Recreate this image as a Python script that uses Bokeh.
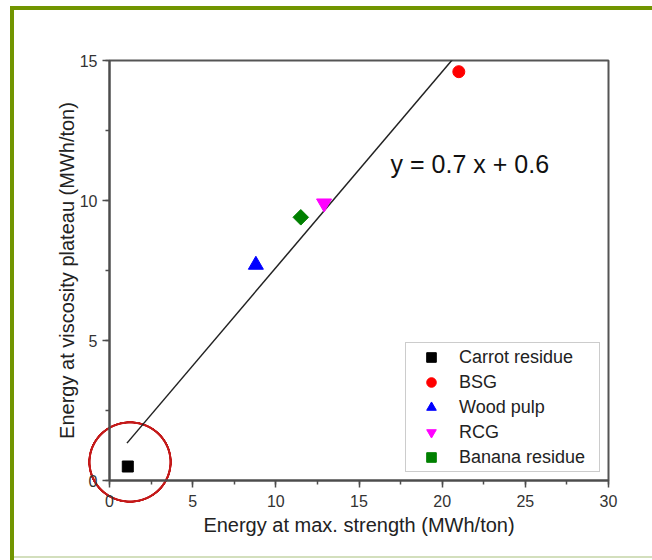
import math
from bokeh.plotting import figure
from bokeh.models import Range1d, SingleIntervalTicker, Label, Legend, LegendItem
from bokeh.embed import file_html
from bokeh.resources import INLINE

# ---- data ----
materials = ["Carrot residue", "BSG", "Wood pulp", "RCG", "Banana residue"]
energy_max_strength = [1.1, 21.0, 8.8, 12.9, 11.5]      # MWh/ton (x)
energy_visc_plateau = [0.5, 14.6, 7.7, 9.9, 9.4]        # MWh/ton (y)
marker_types = ["square", "circle", "triangle", "inverted_triangle", "square"]
marker_angles = [0, 0, 0, 0, 45]
marker_sizes = [11, 12, 15, 15, 11]
marker_colors = ["#000000", "#ff0000", "#0000ff", "#ff00ff", "#008000"]

fit_slope = 0.7
fit_intercept = 0.6
fit_x_span = [1.05, 21.0]
equation_text = "y = 0.7 x + 0.6"

x_label = "Energy at max. strength (MWh/ton)"
y_label = "Energy at viscosity plateau (MWh/ton)"

FONT = "Liberation Sans"

# slide decoration (green frame) and red highlight ring, drawn as page background
deco_css = """
:host {
  background:
    radial-gradient(42px 41px at 130px 462px,
        rgba(196,26,26,0) 93%, #c41a1a 94.5%, #c41a1a 99%, rgba(196,26,26,0) 100%),
    linear-gradient(#719500, #719500) 10px 6px / 642px 4px no-repeat,
    linear-gradient(#719500, #719500) 10px 6px / 4px 554px no-repeat,
    linear-gradient(#d3dfbd, #d3dfbd) 14px 556px / 638px 2px no-repeat,
    #ffffff;
}
"""

p = figure(width=652, height=560, output_backend="svg", toolbar_location=None,
           x_range=Range1d(0, 30), y_range=Range1d(0, 15),
           min_border_left=109, min_border_right=44,
           min_border_top=60, min_border_bottom=80,
           background_fill_color=None, border_fill_color=None,
           stylesheets=[deco_css])

p.xgrid.visible = False
p.ygrid.visible = False
p.outline_line_color = "#555555"
p.outline_line_width = 2

for ax in (p.xaxis[0], p.yaxis[0]):
    ax.ticker = SingleIntervalTicker(interval=5, num_minor_ticks=2)
    ax.axis_line_color = "#4d4d4d"
    ax.axis_line_width = 2
    ax.major_tick_line_color = "#4d4d4d"
    ax.major_tick_line_width = 1.5
    ax.minor_tick_line_color = "#4d4d4d"
    ax.minor_tick_line_width = 1.5
    ax.major_tick_in = 0
    ax.major_tick_out = 7
    ax.minor_tick_in = 0
    ax.minor_tick_out = 4
    ax.major_label_text_font = FONT
    ax.major_label_text_font_size = "16px"
    ax.major_label_text_color = "#333333"
    ax.axis_label_text_font = FONT
    ax.axis_label_text_font_size = "20px"
    ax.axis_label_text_font_style = "normal"
    ax.axis_label_text_color = "#222222"

p.xaxis[0].axis_label = x_label
p.yaxis[0].axis_label = y_label
p.xaxis[0].major_label_standoff = 7
p.xaxis[0].axis_label_standoff = 4
p.yaxis[0].major_label_standoff = 5
p.yaxis[0].axis_label_standoff = -1

# fit line
fit_y = [fit_slope * x + fit_intercept for x in fit_x_span]
p.line(x=fit_x_span, y=fit_y, line_color="#222222", line_width=1.5)

# points
items = []
for name, xv, yv, mk, ang, sz, col in zip(materials, energy_max_strength,
                                          energy_visc_plateau, marker_types,
                                          marker_angles, marker_sizes, marker_colors):
    r = p.scatter(x=[xv], y=[yv], marker=mk, angle=ang, angle_units="deg",
                  size=sz, fill_color=col, line_color=col)
    items.append(LegendItem(label=name, renderers=[r]))

legend = Legend(items=items, location="bottom_right", margin=8, padding=2,
                glyph_width=46, glyph_height=24, spacing=1, label_height=20,
                label_width=138, label_standoff=5,
                label_text_font=FONT, label_text_font_size="18px",
                label_text_color="#222222",
                border_line_color="#999999", border_line_width=1,
                background_fill_color="white", background_fill_alpha=1)
p.add_layout(legend)

# equation
p.add_layout(Label(x=16.9, y=11.3, text=equation_text, text_font=FONT,
                   text_font_size="25px", text_color="#111111",
                   text_baseline="middle", text_align="left"))

open("out.html", "w").write(file_html(p, INLINE))
